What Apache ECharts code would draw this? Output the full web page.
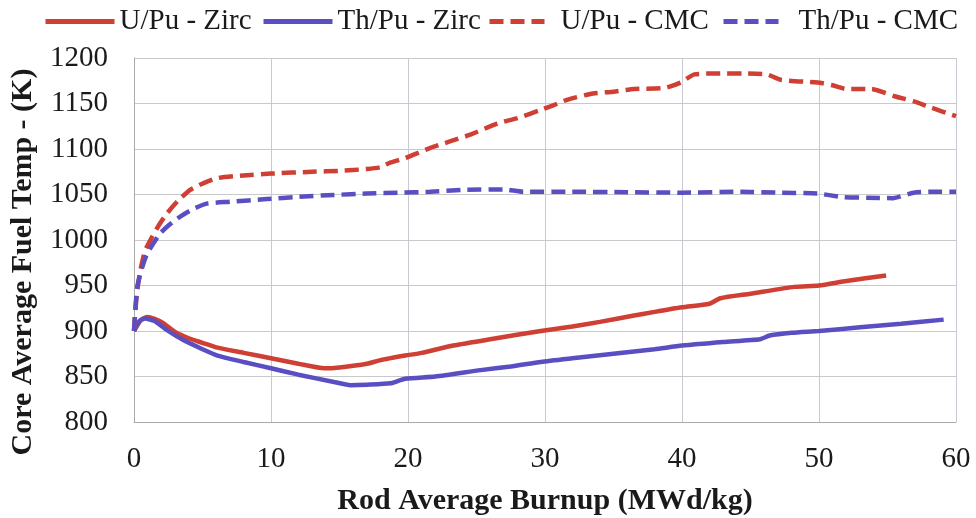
<!DOCTYPE html>
<html><head><meta charset="utf-8">
<script src="https://cdn.jsdelivr.net/npm/echarts@6/dist/echarts.min.js"></script>
<style>html,body{margin:0;padding:0;background:#fff}#c{width:976px;height:518px}</style>
</head><body><div id="c"></div>
<script>
const seriesNames = ['U/Pu - Zirc', 'Th/Pu - Zirc', 'U/Pu - CMC', 'Th/Pu - CMC'];
const xTicks = [0, 10, 20, 30, 40, 50, 60];
const yTicks = [800, 850, 900, 950, 1000, 1050, 1100, 1150, 1200];

const uPuZirc = [[0,900],[0.5,912],[1,915.5],[2,910],[3,899],[4,892],[5,887],[6,882],[8,876],[10,870],[12,864],[13.9,859],[15,860],[17,864],[18,868],[19.8,873],[21,876],[23.3,884],[26,891],[29.7,900],[32,905],[34,910],[36.5,917],[38,921],[40,926],[42,930],[42.8,936],[45,941],[48.2,948.5],[50,950],[52,955],[54.9,961]];
const thPuZirc = [[0,900],[0.4,911],[0.8,913.6],[1.5,911],[2.5,900],[3.6,890],[5,880],[6.1,873],[8,866],[10,859],[12,852],[14.6,844],[15.8,840.5],[17,841],[18.7,842.5],[19.8,847.6],[22,850],[25.3,857],[27.5,861],[29.7,866],[32,870],[35,875],[38,880],[40,884],[43,888],[45.7,891],[46.4,895],[48,898],[50,900],[53,904],[56,908],[59.1,912.5]];
const uPuCMC = [[0,900],[0.2,940],[0.47,967],[0.8,988],[1.2,1000],[1.8,1016],[2.4,1029],[3.2,1043],[4.1,1055],[5,1062],[6.1,1068],[8,1071],[10,1073],[13,1075],[15,1076],[17,1078],[18,1080],[18.7,1085],[19.8,1090],[21.6,1101],[23,1108],[24.6,1116],[26.5,1128],[28,1134],[29.7,1143],[30.6,1148],[31.6,1154],[33.5,1161],[35,1163],[36.5,1166],[38.7,1167],[39.9,1173],[40.9,1182],[42.8,1183],[44.5,1183],[46.2,1182],[47.2,1176],[49.9,1173],[51,1170],[52,1166],[53.8,1166],[55.5,1158],[57,1152],[57.9,1147],[60,1136]];
const thPuCMC = [[0,900],[0.23,948],[0.6,970],[0.96,985],[1.9,1007],[2.6,1017],[3.4,1026],[4.3,1034],[5.3,1040],[7,1042],[9.7,1045],[12,1047.5],[14.6,1049.5],[17,1051],[19.5,1052],[21.6,1053],[24,1055],[27,1055.6],[28.4,1053],[32,1053],[36,1052.5],[40,1052],[44.3,1053],[47,1052],[49.9,1051],[51.8,1047],[53.5,1046.5],[55.4,1046],[56.9,1052],[58.5,1053],[60,1053]];

const red = '#cf3f34', blue = '#5a4fc2';
const font = 'Liberation Serif';
const dash = [14, 7];
function leg(name, left, w, pad) {
  return {
    data: [name], left: left, top: 7, itemWidth: w, itemHeight: 14, padding: 0,
    itemStyle: { opacity: 0 },
    lineStyle: { width: 5 },
    textStyle: { fontFamily: font, fontSize: 29, color: '#1a1a1a', padding: [0, 0, 0, pad] }
  };
}
const chart = echarts.init(document.getElementById('c'));
chart.setOption({
  animation: false,
  textStyle: { fontFamily: font },
  legend: [
    leg(seriesNames[0], 43, 69, 0),
    leg(seriesNames[1], 261, 69, 0),
    leg(seriesNames[2], 487, 55, 11),
    leg(seriesNames[3], 721, 55, 15)
  ],
  grid: { left: 134, right: 20, top: 58, bottom: 96, outerBoundsMode: 'none', containLabel: false },
  xAxis: {
    type: 'value', min: 0, max: 60, interval: 10,
    axisLine: { show: true, lineStyle: { color: '#aaa', width: 1 } },
    axisTick: { show: false },
    splitLine: { show: true, lineStyle: { color: '#c9c9d2', width: 1 } },
    axisLabel: { fontFamily: font, fontSize: 29, color: '#1a1a1a', margin: 23 },
    name: 'Rod Average Burnup (MWd/kg)', nameLocation: 'middle', nameGap: 64,
    nameTextStyle: { fontFamily: font, fontSize: 30, fontWeight: 'bold', color: '#1a1a1a' }
  },
  yAxis: {
    type: 'value', min: 800, max: 1200, interval: 50,
    axisLine: { show: true, lineStyle: { color: '#aaa', width: 1 } },
    axisTick: { show: false },
    splitLine: { show: true, lineStyle: { color: '#c9c9c9', width: 1 } },
    axisLabel: { fontFamily: font, fontSize: 29, color: '#1a1a1a', margin: 26, formatter: v => String(v) },
    name: 'Core Average Fuel Temp - (K)', nameLocation: 'middle', nameGap: 96,
    nameTextStyle: { fontFamily: font, fontSize: 30, fontWeight: 'bold', color: '#1a1a1a', padding: [0, 44, 0, 0] }
  },
  series: [
    { name: seriesNames[0], type: 'line', data: uPuZirc, symbol: 'none', smooth: 0.2, color: red, lineStyle: { width: 4.5, color: red } },
    { name: seriesNames[1], type: 'line', data: thPuZirc, symbol: 'none', smooth: 0.2, color: blue, lineStyle: { width: 4.5, color: blue } },
    { name: seriesNames[2], type: 'line', data: uPuCMC, symbol: 'none', smooth: 0.2, color: red, lineStyle: { width: 4.5, color: red, type: dash } },
    { name: seriesNames[3], type: 'line', data: thPuCMC, symbol: 'none', smooth: 0.2, color: blue, lineStyle: { width: 4.5, color: blue, type: dash } }
  ]
});
</script></body></html>
